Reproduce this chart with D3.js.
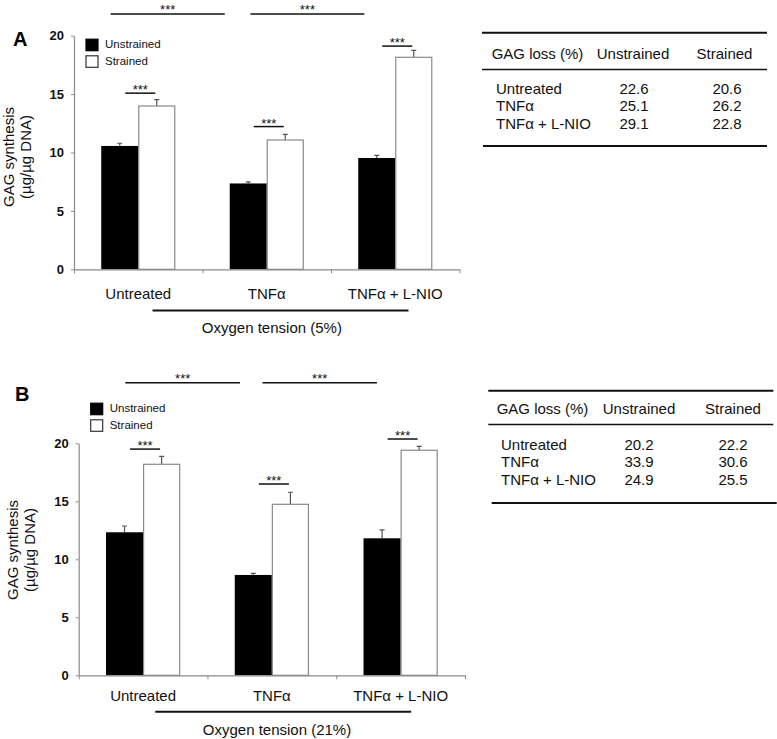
<!DOCTYPE html>
<html>
<head>
<meta charset="utf-8">
<script src="https://cdn.jsdelivr.net/npm/d3@7"></script>
<style>
  body { margin: 0; background: #fff; }
  svg { font-family: "Liberation Sans", Arial, Helvetica, sans-serif; }
  .axis path, .axis line { stroke: #8a8a8a; }
  .axis text { font-size: 13px; font-weight: bold; fill: #111; }
</style>
</head>
<body>
<svg id="chart" width="777" height="739"></svg>
<script>
// categories and series
const groups = ["Untreated", "TNFα", "TNFα + L-NIO"];
const conditions = ["Unstrained", "Strained"];
const yTicks = [0, 5, 10, 15, 20];

// panel A, oxygen tension 5%
const unstrainedA = [10.56, 7.35, 9.53];
const unstrainedErrA = [0.23, 0.14, 0.23];
const strainedA = [13.98, 11.07, 18.15];
const strainedErrA = [0.54, 0.49, 0.6];
const bracketA = [15.08, 12.22, 19.11];   // pairwise *** levels
const topLevelA = 21.85;
const lossUnstrainedA = [22.6, 25.1, 29.1];
const lossStrainedA = [20.6, 26.2, 22.8];

// panel B, oxygen tension 21%
const unstrainedB = [12.33, 8.65, 11.81];
const unstrainedErrB = [0.54, 0.14, 0.72];
const strainedB = [18.19, 14.74, 19.4];
const strainedErrB = [0.69, 1.04, 0.34];
const bracketB = [19.5, 16.49, 20.37];
const topLevelB = 25.22;
const lossUnstrainedB = [20.2, 33.9, 24.9];
const lossStrainedB = [22.2, 30.6, 25.5];

const panels = [
  {
    letter: "A", oxygen: "Oxygen tension (5%)",
    unstrained: unstrainedA, unErr: unstrainedErrA,
    strained: strainedA, stErr: strainedErrA,
    brackets: bracketA, topLevel: topLevelA,
    lossU: lossUnstrainedA, lossS: lossStrainedA,
    x0: 74, x1: 459.5, yTop: 35.7, yBottom: 269.3,
    topSpans: [[0.285, 1.173], [1.373, 2.26]], bottomSpan: [0.611, 2.603],
    catY: 299, lineY: 310.5, oxyY: 333,
    letterX: 13, letterY: 46,
    ylab: [14, 31], ylabY: 157,
    legendY: 38.7,
    table: { x0: 482, x1: 767, xb0: 483, xb1: 767, top: 32.7, mid: 69.5, bottom: 146,
             head: 59.3, rows: [94.3, 111.4, 128.5], lab: 496, headLab: 491.7, cu: 634, cs: 727, hu: 633, hs: 724.5 }
  },
  {
    letter: "B", oxygen: "Oxygen tension (21%)",
    unstrained: unstrainedB, unErr: unstrainedErrB,
    strained: strainedB, stErr: strainedErrB,
    brackets: bracketB, topLevel: topLevelB,
    lossU: lossUnstrainedB, lossS: lossStrainedB,
    x0: 78.7, x1: 465, yTop: 443.3, yBottom: 675.3,
    topSpans: [[0.362, 1.253], [1.427, 2.316]], bottomSpan: [0.595, 2.582],
    catY: 700.7, lineY: 711.7, oxyY: 735,
    letterX: 15, letterY: 401,
    ylab: [17.5, 34.5], ylabY: 550,
    legendY: 402.7,
    table: { x0: 488.3, x1: 773.3, xb0: 491.7, xb1: 776.7, top: 390.7, mid: 424.5, bottom: 503,
             head: 414, rows: [450, 467.4, 484.8], lab: 501, headLab: 496.7, cu: 639, cs: 733, hu: 639, hs: 733 }
  }
];

const svg = d3.select("#chart");
const fmt = d3.format(".1f");

panels.forEach(p => drawPanel(p));

function drawPanel(p) {
  const g = svg.append("g");

  const y = d3.scaleLinear().domain([0, 20]).range([p.yBottom, p.yTop]);
  const xCat = d3.scaleLinear().domain([0, 3]).range([p.x0, p.x1]);
  const x = d3.scaleBand().domain(groups).range([p.x0, p.x1])
    .paddingInner(0.424).paddingOuter(0.212);
  const xSub = d3.scaleBand().domain(conditions).range([0, x.bandwidth()]);

  const rows = groups.map((name, i) => ({
    name,
    bars: [
      { cond: "Unstrained", value: p.unstrained[i], err: p.unErr[i] },
      { cond: "Strained", value: p.strained[i], err: p.stErr[i] }
    ],
    bracket: p.brackets[i]
  }));

  // error bars (behind the bars so the stem starts at the top edge)
  const cap = 2.5;
  const bars = g.selectAll(".grp").data(rows).enter().append("g")
    .attr("transform", d => "translate(" + x(d.name) + ",0)");

  bars.selectAll(".err").data(d => d.bars).enter().append("path")
    .attr("fill", "none")
    .attr("stroke", "#555")
    .attr("stroke-width", 1.2)
    .attr("d", d => {
      const cx = xSub(d.cond) + xSub.bandwidth() / 2;
      const top = y(d.value + d.err);
      return "M" + cx + "," + y(d.value) + "V" + top + "M" + (cx - cap) + "," + top + "H" + (cx + cap);
    });

  bars.selectAll("rect").data(d => d.bars).enter().append("rect")
    .attr("x", d => xSub(d.cond) + (d.cond === "Strained" ? 0.5 : 0))
    .attr("y", d => y(d.value))
    .attr("width", d => xSub.bandwidth() - (d.cond === "Strained" ? 1 : 0))
    .attr("height", d => y(0) - y(d.value))
    .attr("fill", d => d.cond === "Strained" ? "#fff" : "#000")
    .attr("stroke", d => d.cond === "Strained" ? "#8a8a8a" : "none")
    .attr("stroke-width", 1.2);

  // y axis
  g.append("g").attr("class", "axis")
    .attr("transform", "translate(" + p.x0 + ",0)")
    .call(d3.axisLeft(y).tickValues(yTicks).tickSize(3).tickPadding(7).tickSizeOuter(0))
    .call(a => a.select(".domain").attr("stroke-width", 1.2));

  // x axis with ticks at group boundaries
  g.append("g").attr("class", "axis")
    .attr("transform", "translate(0," + p.yBottom + ")")
    .call(d3.axisBottom(xCat).tickValues([0, 1, 2, 3]).tickFormat("").tickSize(4).tickSizeOuter(0))
    .call(a => a.select(".domain").attr("stroke-width", 1.2));

  // category labels
  g.selectAll(".cat").data(groups).enter().append("text")
    .attr("x", d => x(d) + x.bandwidth() / 2)
    .attr("y", p.catY)
    .attr("text-anchor", "middle")
    .attr("font-size", 15)
    .attr("fill", "#111")
    .text(d => d);

  g.append("line")
    .attr("x1", xCat(p.bottomSpan[0])).attr("x2", xCat(p.bottomSpan[1]))
    .attr("y1", p.lineY).attr("y2", p.lineY)
    .attr("stroke", "#111").attr("stroke-width", 2);

  g.append("text")
    .attr("x", xCat(1.54)).attr("y", p.oxyY)
    .attr("text-anchor", "middle")
    .attr("font-size", 15)
    .attr("fill", "#111")
    .text(p.oxygen);

  // pairwise significance
  g.selectAll(".br").data(rows).enter().append("line")
    .attr("x1", d => x(d.name) + x.bandwidth() / 2 - 13)
    .attr("x2", d => x(d.name) + x.bandwidth() / 2 + 17)
    .attr("y1", d => y(d.bracket)).attr("y2", d => y(d.bracket))
    .attr("stroke", "#111").attr("stroke-width", 1.5);

  g.selectAll(".brt").data(rows).enter().append("text")
    .attr("x", d => x(d.name) + x.bandwidth() / 2 + 2)
    .attr("y", d => y(d.bracket) + 1)
    .attr("text-anchor", "middle")
    .attr("font-size", 13)
    .attr("fill", "#111")
    .text("***");

  // between-group significance
  p.topSpans.forEach(s => {
    g.append("line")
      .attr("x1", xCat(s[0])).attr("x2", xCat(s[1]))
      .attr("y1", y(p.topLevel)).attr("y2", y(p.topLevel))
      .attr("stroke", "#111").attr("stroke-width", 1.5);
    g.append("text")
      .attr("x", (xCat(s[0]) + xCat(s[1])) / 2)
      .attr("y", y(p.topLevel))
      .attr("text-anchor", "middle")
      .attr("font-size", 13)
      .attr("fill", "#111")
      .text("***");
  });

  // legend
  const lg = g.selectAll(".lg").data(conditions).enter().append("g")
    .attr("transform", (d, i) => "translate(" + (p.x0 + 11.5) + "," + (p.legendY + i * 16.6) + ")");
  lg.append("rect")
    .attr("x", 0.5).attr("y", 0.5)
    .attr("width", 12).attr("height", 11.5)
    .attr("fill", d => d === "Strained" ? "#fff" : "#000")
    .attr("stroke", d => d === "Strained" ? "#333" : "#000")
    .attr("stroke-width", 1.2);
  lg.append("text")
    .attr("x", 19.5).attr("y", 9.7)
    .attr("font-size", 11.5)
    .attr("fill", "#111")
    .text(d => d);

  // panel letter
  g.append("text")
    .attr("x", p.letterX).attr("y", p.letterY)
    .attr("font-size", 20).attr("font-weight", "bold")
    .attr("fill", "#000")
    .text(p.letter);

  // y label
  const yl = g.append("text")
    .attr("transform", "translate(" + p.ylab[0] + "," + p.ylabY + ") rotate(-90)")
    .attr("text-anchor", "middle")
    .attr("font-size", 15)
    .attr("fill", "#111");
  yl.append("tspan").attr("x", 0).attr("y", 0).text("GAG synthesis");
  yl.append("tspan").attr("x", 0).attr("y", p.ylab[1] - p.ylab[0]).text("(µg/µg DNA)");

  // GAG loss table
  const t = p.table;
  const tg = g.append("g").attr("font-size", 15).attr("fill", "#111");
  tg.append("line").attr("x1", t.x0).attr("x2", t.x1).attr("y1", t.top).attr("y2", t.top)
    .attr("stroke", "#111").attr("stroke-width", 2);
  tg.append("line").attr("x1", t.x0).attr("x2", t.x1).attr("y1", t.mid).attr("y2", t.mid)
    .attr("stroke", "#111").attr("stroke-width", 1.6);
  tg.append("line").attr("x1", t.xb0).attr("x2", t.xb1).attr("y1", t.bottom).attr("y2", t.bottom)
    .attr("stroke", "#111").attr("stroke-width", 2);

  tg.append("text").attr("x", t.headLab).attr("y", t.head).text("GAG loss (%)");
  tg.append("text").attr("x", t.hu).attr("y", t.head).attr("text-anchor", "middle").text(conditions[0]);
  tg.append("text").attr("x", t.hs).attr("y", t.head).attr("text-anchor", "middle").text(conditions[1]);

  const tr = tg.selectAll(".tr").data(groups).enter().append("g");
  tr.append("text").attr("x", t.lab).attr("y", (d, i) => t.rows[i]).text(d => d);
  tr.append("text").attr("x", t.cu).attr("y", (d, i) => t.rows[i])
    .attr("text-anchor", "middle").text((d, i) => fmt(p.lossU[i]));
  tr.append("text").attr("x", t.cs).attr("y", (d, i) => t.rows[i])
    .attr("text-anchor", "middle").text((d, i) => fmt(p.lossS[i]));
}
</script>
</body>
</html>
